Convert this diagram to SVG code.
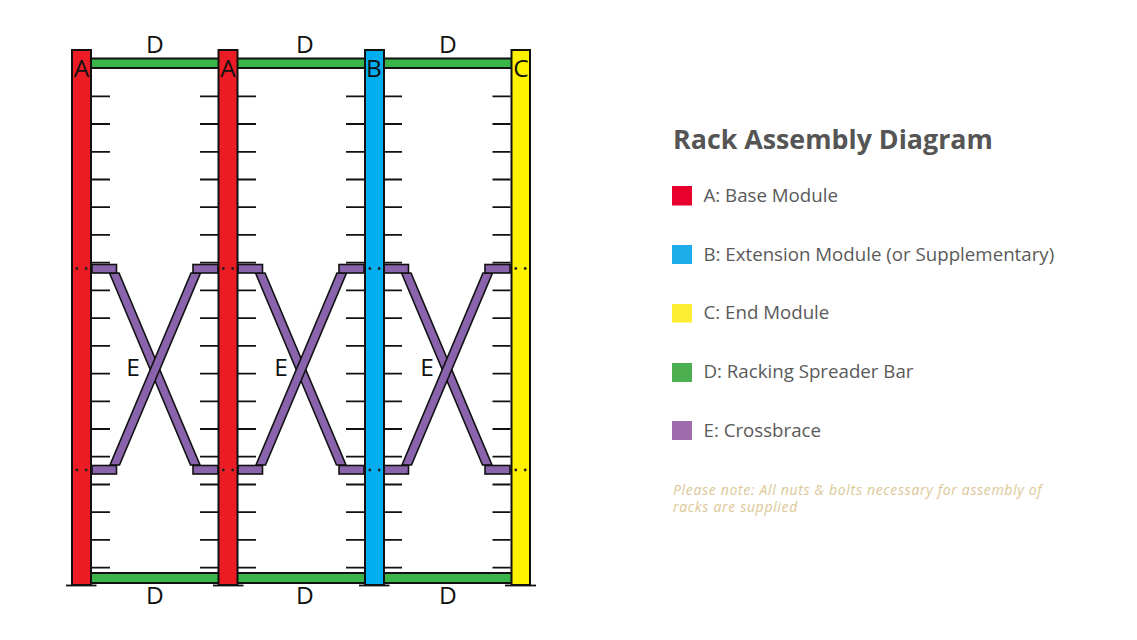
<svg xmlns="http://www.w3.org/2000/svg" xmlns:xlink="http://www.w3.org/1999/xlink" width="1137" height="640" viewBox="0 0 1137 640">
<style>
.ln{stroke:#111;stroke-width:1.8;fill:none}
.col{stroke:#111;stroke-width:2}
.bar{fill:#39b54a;stroke:#111;stroke-width:2}
.br{fill:#8a63ad;stroke:#111;stroke-width:1.6}
.dot{fill:#222}
.lab{font-family:"Open Sans",sans-serif;font-size:24.500px;fill:#111;text-anchor:middle}
.tt{font-family:"Open Sans",sans-serif;font-weight:700;font-size:26.800px;fill:#555}
.lg{font-family:"Open Sans",sans-serif;font-size:18.700px;fill:#5a5a5a}
.nt{font-family:"Open Sans",sans-serif;font-style:italic;font-size:14px;letter-spacing:.68px;fill:#dcc795}
</style>
<defs>
<path id="ticks" d="M0 96.3h18M0 124h18M0 151.8h18M0 179.5h18M0 207.2h18M0 234.9h18M0 262.7h18M0 290.4h18M0 318.1h18M0 345.8h18M0 373.6h18M0 401.3h18M0 429h18M0 456.7h18M0 484.5h18M0 512.2h18M0 539.9h18M0 567.6h18"/>
<g id="brace">
<path class="br" d="M109.500 273L190.500 465H200L119 273Z"/>
<path class="br" d="M191 273L110 465H119.500L200.500 273Z"/>
<rect class="br" x="92" y="264.500" width="24.500" height="8.500"/>
<rect class="br" x="193" y="264.500" width="25" height="8.500"/>
<rect class="br" x="92" y="465.500" width="24.500" height="8.500"/>
<rect class="br" x="193" y="465.500" width="25" height="8.500"/>
</g>
<g id="dots">
<circle class="dot" cx="4.800" cy="268.500" r="1.400"/><circle class="dot" cx="14.200" cy="268.500" r="1.400"/>
<circle class="dot" cx="4.800" cy="470" r="1.400"/><circle class="dot" cx="14.200" cy="470" r="1.400"/>
</g>
</defs>
<g id="connectors">
<use href="#ticks" class="ln" x="92"/><use href="#ticks" class="ln" x="200"/>
<use href="#ticks" class="ln" x="238"/><use href="#ticks" class="ln" x="346"/>
<use href="#ticks" class="ln" x="384"/><use href="#ticks" class="ln" x="492.500"/>
</g>
<g id="spreader-bars">
<rect class="bar" x="90" y="58.500" width="422" height="9.500"/>
<rect class="bar" x="90" y="573" width="422" height="10"/>
</g>
<g id="crossbraces">
<use href="#brace"/><use href="#brace" x="146"/><use href="#brace" x="292"/>
</g>
<g id="module-a1"><rect class="col" x="72" y="50" width="19" height="535" fill="#ed1c24"/><path class="ln" d="M66 585.500H96.500"/><use href="#dots" x="72"/><text class="lab" x="81.500" y="77">A</text></g>
<g id="module-a2"><rect class="col" x="218.500" y="50" width="19" height="535" fill="#ed1c24"/><path class="ln" d="M213 585.500H243.500"/><use href="#dots" x="218.500"/><text class="lab" x="228" y="77">A</text></g>
<g id="module-b"><rect class="col" x="365" y="50" width="19" height="535" fill="#00aeef"/><path class="ln" d="M359 585.500H389.500"/><use href="#dots" x="365"/><text class="lab" x="374" y="77">B</text></g>
<g id="module-c"><rect class="col" x="511.500" y="50" width="18.500" height="535" fill="#fff200"/><path class="ln" d="M505 585.500H536"/><use href="#dots" x="511"/><text class="lab" x="521" y="77">C</text></g>
<g id="labels">
<text class="lab" x="155" y="53">D</text><text class="lab" x="305" y="53">D</text><text class="lab" x="448" y="53">D</text>
<text class="lab" x="155" y="603.500">D</text><text class="lab" x="305" y="603.500">D</text><text class="lab" x="448" y="603.500">D</text>
<text class="lab" x="133" y="375.500">E</text><text class="lab" x="281" y="375.500">E</text><text class="lab" x="427" y="375.500">E</text>
</g>
<g id="legend">
<text class="tt" x="673" y="149">Rack Assembly Diagram</text>
<g id="legend-a"><rect x="672" y="186" width="20" height="19.500" fill="#e8012d"/><text class="lg" x="703.500" y="202">A: Base Module</text></g>
<g id="legend-b"><rect x="672" y="245" width="20" height="19" fill="#1bace9"/><text class="lg" x="703.500" y="261">B: Extension Module (or Supplementary)</text></g>
<g id="legend-c"><rect x="672" y="304" width="20" height="18.500" fill="#fdec34"/><text class="lg" x="703.500" y="319">C: End Module</text></g>
<g id="legend-d"><rect x="672" y="363" width="20" height="19" fill="#4caf50"/><text class="lg" x="703.500" y="378">D: Racking Spreader Bar</text></g>
<g id="legend-e"><rect x="672" y="421" width="20" height="19" fill="#9e6cad"/><text class="lg" x="703.500" y="437">E: Crossbrace</text></g>
<text class="nt" x="673" y="495">Please note: All nuts &amp; bolts necessary for assembly of</text>
<text class="nt" x="673" y="512">racks are supplied</text>
</g>
</svg>
